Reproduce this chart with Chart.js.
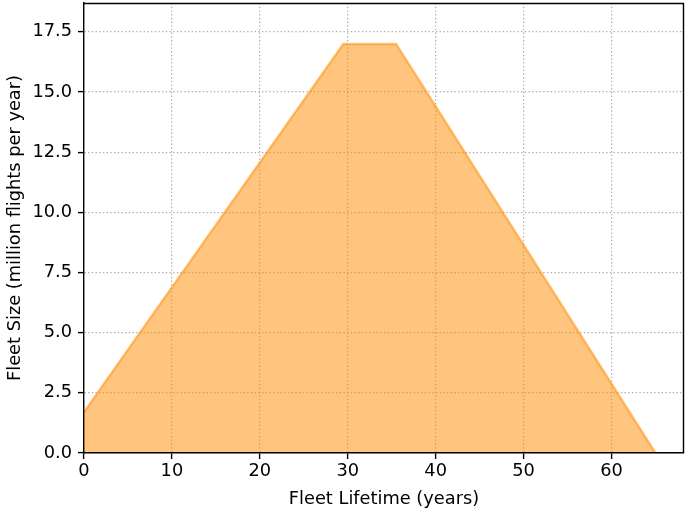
<!DOCTYPE html>
<html>
<head>
<meta charset="utf-8">
<script src="https://cdn.jsdelivr.net/npm/chart.js@4/dist/chart.umd.min.js"></script>
<style>
  html, body { margin: 0; padding: 0; background: #fff; }
  #wrap { width: 685px; height: 512px; }
</style>
</head>
<body>
<div id="wrap"><canvas id="c" width="685" height="512"></canvas></div>
<script>
const lifetimeYears = [0, 29.5, 35.5, 65];
const fleetSize = [1.7, 17, 17, 0];
const xTicks = [0, 10, 20, 30, 40, 50, 60];
const yTicks = [0, 2.5, 5, 7.5, 10, 12.5, 15, 17.5];
const xLabel = 'Fleet Lifetime (years)';
const yLabel = 'Fleet Size (million flights per year)';

const font = { family: "'DejaVu Sans'", size: 17.8 };

const framePlugin = {
  id: 'frame',
  afterDatasetsDraw(chart) {
    const { ctx, chartArea: a } = chart;
    ctx.save();
    ctx.strokeStyle = '#000';
    ctx.lineWidth = 1.4;
    ctx.beginPath();
    ctx.moveTo(a.left, a.top + 0.5);
    ctx.lineTo(a.right - 0.5, a.top + 0.5);
    ctx.lineTo(a.right - 0.5, a.bottom);
    ctx.stroke();
    ctx.restore();
  }
};

new Chart(document.getElementById('c'), {
  type: 'line',
  data: {
    datasets: [{
      data: lifetimeYears.map((x, i) => ({ x: x, y: fleetSize[i] })),
      fill: 'origin',
      backgroundColor: 'rgba(255,140,0,0.5)',
      borderColor: 'rgba(255,140,0,0.5)',
      borderWidth: 2.5,
      pointRadius: 0,
      tension: 0
    }]
  },
  options: {
    responsive: false,
    animation: false,
    devicePixelRatio: 1,
    layout: { padding: { left: 0, right: 1, top: 3, bottom: 0 } },
    plugins: { legend: { display: false }, tooltip: { enabled: false } },
    scales: {
      x: {
        type: 'linear',
        min: 0,
        max: 68.25,
        afterBuildTicks(scale) { scale.ticks = xTicks.map(v => ({ value: v })); },
        afterFit(scale) { scale.height = 59; scale.paddingLeft = 0; scale.paddingRight = 0; },
        ticks: { color: '#000', font: font, padding: 2, maxRotation: 0, callback: v => String(v) },
        grid: {
          color: '#b0b0b0', lineWidth: 1.2,
          tickColor: '#000', tickLength: 6, tickWidth: 1.4, tickBorderDash: [], drawTicks: true
        },
        border: { color: '#000', width: 1.4, dash: [1.4, 2.3], z: 1 },
        title: { display: true, text: xLabel, color: '#000', font: font, padding: { top: 2, bottom: 2 } }
      },
      y: {
        type: 'linear',
        min: 0,
        max: 18.7,
        afterBuildTicks(scale) { scale.ticks = yTicks.map(v => ({ value: v })); },
        afterFit(scale) { scale.width = 84; scale.paddingTop = 0; scale.paddingBottom = 0; },
        ticks: { color: '#000', font: font, padding: 6, callback: v => Number(v).toFixed(1) },
        grid: {
          color: '#b0b0b0', lineWidth: 1.2,
          tickColor: '#000', tickLength: 6, tickWidth: 1.4, tickBorderDash: [], drawTicks: true
        },
        border: { color: '#000', width: 1.4, dash: [1.4, 2.3], z: 1 },
        title: { display: true, text: yLabel, color: '#000', font: font, padding: { top: 5, bottom: 4 } }
      }
    }
  },
  plugins: [framePlugin]
});
</script>
</body>
</html>
